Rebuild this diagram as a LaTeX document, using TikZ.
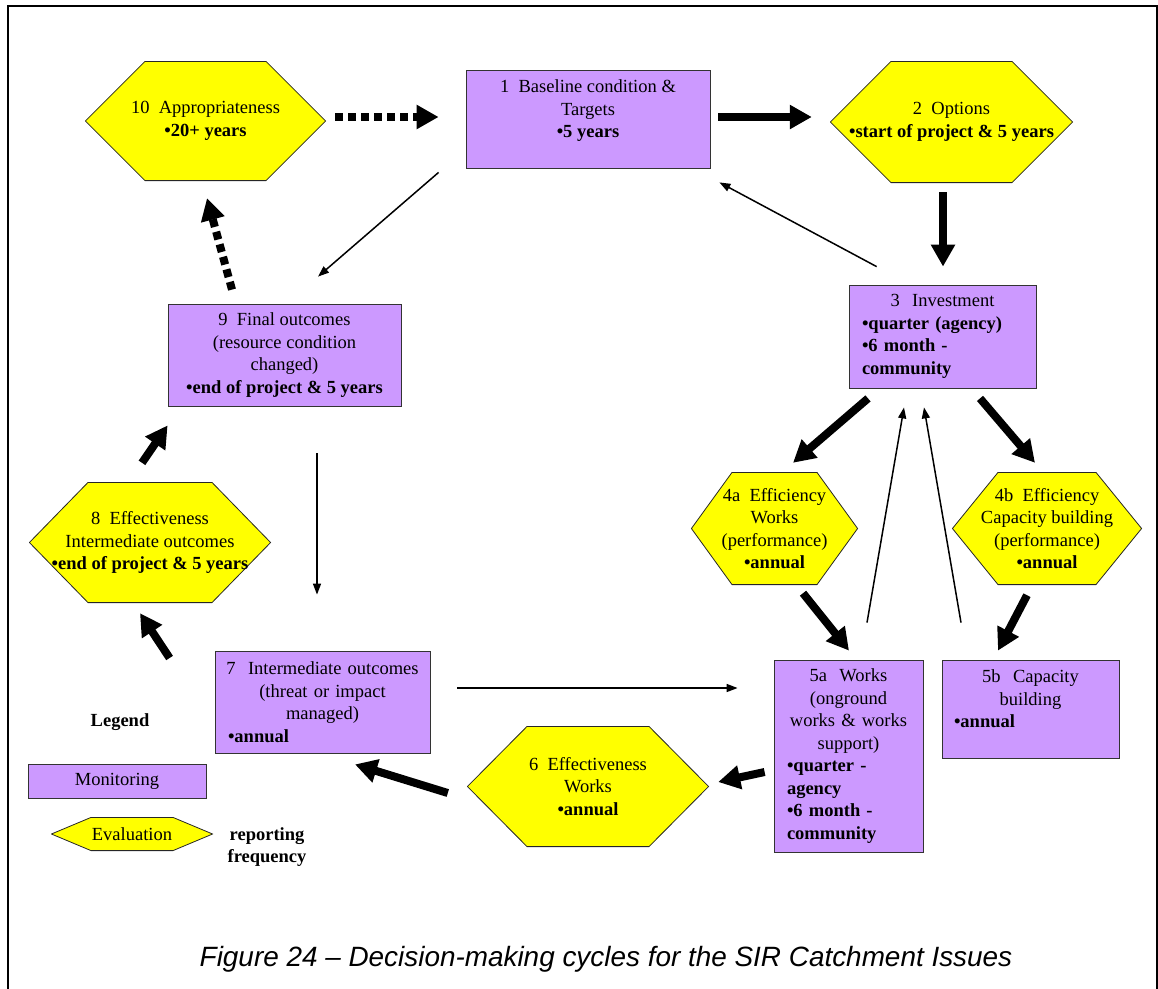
\documentclass[tikz,border=0pt]{standalone}
\usepackage{fontspec}
\setmainfont{Liberation Serif}
\newfontfamily\captionsans{Liberation Sans}
\usepackage{tikz}
\usetikzlibrary{arrows.meta,calc}
\definecolor{monpurple}{HTML}{CC99FF}
\definecolor{evalyellow}{HTML}{FFFF00}
\newcommand{\boxfont}{\fontsize{18.5}{22.5}\selectfont}
\newcommand{\ctrline}[1]{\leavevmode\hbox to\hsize{\hss#1\hss}}
\newcommand{\lowpad}{\rule[-20pt]{0pt}{20pt}}

\begin{document}
\begin{tikzpicture}[x=1pt, y=-1pt,
        hexslant/.store in=\hexslant, hexslant=60pt,
        mon/.style={rectangle, draw=black!80, line width=0.8pt, fill=monpurple,
                    inner sep=0pt, align=center, font=\boxfont},
        evalhex/.style={rectangle, inner sep=0pt, align=center, font=\boxfont,
                    path picture={
                      \filldraw[fill=evalyellow, draw=black!85, line width=0.8pt]
                        ([xshift=\hexslant, yshift=-0.4pt]path picture bounding box.north west)
                        -- ([xshift=-\hexslant, yshift=-0.4pt]path picture bounding box.north east)
                        -- ([xshift=-0.4pt]path picture bounding box.east)
                        -- ([xshift=-\hexslant, yshift=0.4pt]path picture bounding box.south east)
                        -- ([xshift=\hexslant, yshift=0.4pt]path picture bounding box.south west)
                        -- ([xshift=0.4pt]path picture bounding box.west) -- cycle;}},
        thickarr/.style={line width=8pt, -{Triangle[length=22pt, width=23pt]}},
        dotarr/.style={line width=8pt, dash pattern=on 8pt off 5pt, -{Triangle[length=22pt, width=23pt]}},
        thinarr/.style={line width=1.5pt, -{Triangle[length=11pt, width=8pt]}}
      ]
      \useasboundingbox (0,0) rectangle (1158,988);
      \draw[line width=1.2pt] (8,995) -- (8,6) -- (1157,6) -- (1157,995);

      % evaluation steps
      \node[evalhex, minimum width=241pt, minimum height=120pt, hexslant=60pt] (appr) at (205.5,121)
        {10~ Appropriateness\\ \textbf{•20+ years}};
      \node[evalhex, minimum width=243pt, minimum height=122pt, hexslant=61pt] (opts) at (951.5,122)
        {2~ Options\\ \textbf{•start of project \& 5 years}};
      \node[evalhex, minimum width=167pt, minimum height=113pt, hexslant=41pt] (effw) at (774.5,528.5)
        {4a~ Efficiency\\ Works\\ (performance)\\ \textbf{•annual}};
      \node[evalhex, minimum width=190pt, minimum height=113pt, hexslant=46pt] (effc) at (1047,528.5)
        {4b~ Efficiency\\ Capacity building\\ (performance)\\ \textbf{•annual}};
      \node[evalhex, minimum width=242pt, minimum height=121pt, hexslant=60pt] (effwk) at (588,786.5)
        {6~ Effectiveness\\ Works\\ \textbf{•annual}};
      \node[evalhex, minimum width=242pt, minimum height=121pt, hexslant=59pt] (effio) at (150,542.5)
        {8~ Effectiveness\\ Intermediate outcomes\\ \textbf{•end of project \& 5 years}};

      % monitoring steps
      \node[mon, minimum width=244pt, minimum height=98pt] (base) at (588,119)
        {1~ Baseline condition \&\\ Targets\\ \textbf{•5 years}\lowpad};
      \node[mon, minimum width=187pt, minimum height=103pt, text width=161pt, align=left] (invest) at (942.5,336.5)
        {\ctrline{3~ Investment}\\ \textbf{•quarter (agency)}\\ \textbf{•6 month -}\\ \textbf{community}};
      \node[mon, minimum width=149pt, minimum height=192pt, text width=123pt, align=left] (works) at (848.5,756)
        {\ctrline{5a~ Works}\\ \ctrline{(onground}\\ \ctrline{works \& works}\\ \ctrline{support)}\\
         \textbf{•quarter -}\\ \textbf{agency}\\ \textbf{•6 month -}\\ \textbf{community}};
      \node[mon, minimum width=177pt, minimum height=98pt, text width=153pt, align=left] (capb) at (1030.5,709)
        {\ctrline{5b~ Capacity}\\ \ctrline{building}\\ \textbf{•annual}\lowpad};
      \node[mon, minimum width=215pt, minimum height=102pt, text width=189pt, align=left] (inter) at (322.5,702)
        {\ctrline{7~ Intermediate outcomes}\\ \ctrline{(threat or impact}\\ \ctrline{managed)}\\ \textbf{•annual}};
      \node[mon, minimum width=233pt, minimum height=102pt] (final) at (284.5,355)
        {9~ Final outcomes\\ (resource condition\\ changed)\\ \textbf{•end of project \& 5 years}};

      % legend
      \node[font=\boxfont\bfseries] (legtitle) at (120,722) {Legend};
      \node[mon, minimum width=178pt, minimum height=34pt] (legmon) at (117,781) {Monitoring};
      \node[evalhex, minimum width=162pt, minimum height=34pt, hexslant=40pt] (legeval) at (132,834) {Evaluation};
      \node[font=\boxfont\bfseries, align=center] (legfreq) at (267,847) {reporting\\ frequency};

      \node[font=\captionsans\itshape\fontsize{27.9}{32}\selectfont] (caption) at (606,959)
        {Figure 24 – Decision-making cycles for the SIR Catchment Issues};

      % cycle connectors
      \draw[dotarr] ($(appr.east)+(9,-4)$) -- ($(base.west)+(-27,-2)$);
      \draw[thickarr] ($(base.east)+(8,-2)$) -- ($(opts.west)+(-18,-5)$);
      \draw[thickarr] ($(opts.south)+(-8.5,9)$) -- ($(invest.north)+(0.5,-18)$);
      \draw[thinarr] ($(invest.north west)+(28,-18)$) -- ($(base.south east)+(9,14)$);
      \draw[thinarr] ($(base.south west)+(-27,4)$) -- ($(final.north)+(33.5,-27)$);
      \draw[dotarr] ($(final.north)+(-52.5,-14)$) -- ($(appr.south)+(1.5,17)$);
      \draw[thinarr] ($(final.south)+(32.5,47)$) -- ($(inter.north)+(-5.5,-56)$);
      \draw[thickarr] ($(effio.north)+(-8,-19)$) -- ($(final.south west)+(0,19)$);
      \draw[thickarr] ($(inter.west)+(-45,-44)$) -- ($(effio.south)+(-10,10)$);
      \draw[thinarr] ($(inter.east)+(27,-14)$) -- ($(works.west)+(-36,-68)$);
      \draw[thickarr] ($(effwk.west)+(-19,6.5)$) -- ($(inter.south)+(32.5,11)$);
      \draw[thickarr] ($(works.west)+(-9,16)$) -- ($(effwk.east)+(9,-4.5)$);
      \draw[thickarr] ($(invest.south)+(-74.5,10)$) -- ($(effw.north)+(18.5,-9)$);
      \draw[thickarr] ($(invest.south)+(37.5,10)$) -- ($(effc.north)+(-12,-9)$);
      \draw[thickarr] ($(effw.south)+(28.5,8)$) -- ($(works.north)+(0.5,-9)$);
      \draw[thickarr] ($(effc.south)+(-20,10)$) -- ($(capb.north)+(-32.5,-9)$);
      \draw[thinarr] ($(works.north)+(18.5,-37)$) -- ($(invest.south)+(-38.5,19)$);
      \draw[thinarr] ($(capb.north)+(-69.5,-37)$) -- ($(invest.south)+(-18.5,19)$);
    \end{tikzpicture}
\end{document}
